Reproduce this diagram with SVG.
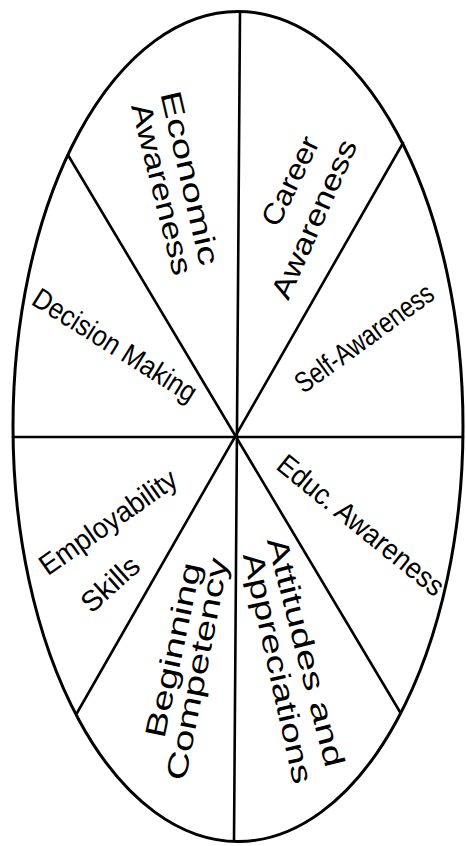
<svg xmlns="http://www.w3.org/2000/svg" width="466" height="846" viewBox="0 0 466 846">
<style>
.bg{fill:#fff}
.rim{fill:none;stroke:#000;stroke-width:3}
.sp{stroke:#000;stroke-width:2.6;fill:none;stroke-linecap:round}
.lb{font-family:"Liberation Sans","DejaVu Sans",sans-serif;font-size:29px;fill:#000;text-anchor:middle;dominant-baseline:central}
</style>
<rect class="bg" x="0" y="0" width="466" height="846"/>
<g id="wheel">
<ellipse class="rim" cx="238" cy="426.5" rx="225" ry="415"/>
</g>
<g id="connectors">
<line class="sp" x1="240" y1="12" x2="234" y2="841"/>
<line class="sp" x1="13" y1="437" x2="463" y2="437" stroke-width="3.2"/>
<line class="sp" x1="68" y1="155" x2="400" y2="712"/>
<line class="sp" x1="403" y1="143" x2="77" y2="713"/>
</g>
<g id="economic-awareness">
<text class="lb" transform="translate(190,178) rotate(77)" textLength="178" lengthAdjust="spacingAndGlyphs">Economic</text>
<text class="lb" transform="translate(162,189) rotate(76)" textLength="176" lengthAdjust="spacingAndGlyphs">Awareness</text>
</g>
<g id="career-awareness">
<text class="lb" transform="translate(290,181) rotate(-64)" textLength="96" lengthAdjust="spacingAndGlyphs">Career</text>
<text class="lb" transform="translate(314,219) rotate(-66)" textLength="171" lengthAdjust="spacingAndGlyphs">Awareness</text>
</g>
<g id="decision-making">
<text class="lb" transform="translate(115,345) rotate(32)" textLength="188" lengthAdjust="spacingAndGlyphs">Decision Making</text>
</g>
<g id="self-awareness">
<text class="lb" transform="translate(364,338) rotate(-36)" textLength="164" lengthAdjust="spacingAndGlyphs" font-size="28">Self-Awareness</text>
</g>
<g id="employability-skills">
<text class="lb" transform="translate(108,522) rotate(-35)" textLength="161" lengthAdjust="spacingAndGlyphs">Employability</text>
<text class="lb" transform="translate(110,584) rotate(-42)" textLength="68" lengthAdjust="spacingAndGlyphs">Skills</text>
</g>
<g id="educ-awareness">
<text class="lb" transform="translate(361,525) rotate(39)" textLength="206" lengthAdjust="spacingAndGlyphs">Educ. Awareness</text>
</g>
<g id="beginning-competency">
<text class="lb" transform="translate(173,650) rotate(-78)" textLength="178" lengthAdjust="spacingAndGlyphs">Beginning</text>
<text class="lb" transform="translate(197,669) rotate(-79)" textLength="226" lengthAdjust="spacingAndGlyphs">Competency</text>
</g>
<g id="attitudes-appreciations">
<text class="lb" transform="translate(306,652) rotate(75.5)" textLength="236" lengthAdjust="spacingAndGlyphs">Attitudes and</text>
<text class="lb" transform="translate(278,668) rotate(77.5)" textLength="236" lengthAdjust="spacingAndGlyphs">Appreciations</text>
</g>
</svg>
